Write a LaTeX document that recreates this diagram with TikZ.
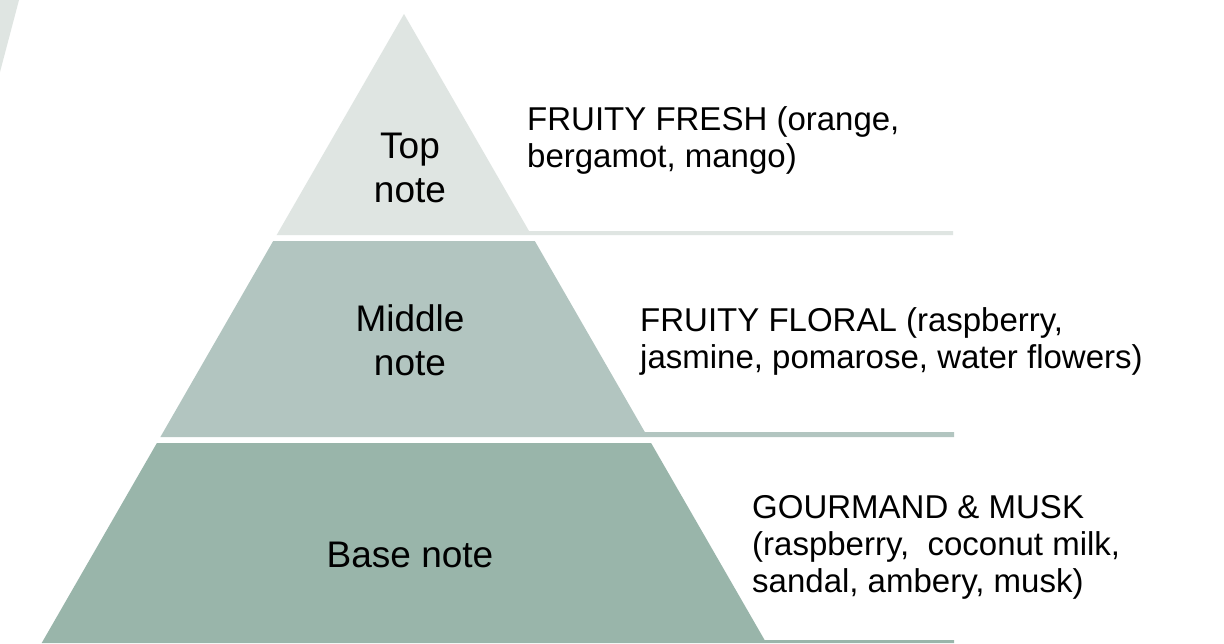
\documentclass[tikz,border=0pt]{standalone}
\usepackage{fontspec}
\setmainfont{Liberation Sans}
\definecolor{topc}{HTML}{DFE5E2}
\definecolor{midc}{HTML}{B2C5C0}
\definecolor{basec}{HTML}{99B5AA}
\begin{document}
\begin{tikzpicture}[x=1pt,y=-1pt,
  lvl/.style={align=center,font=\fontsize{37}{44}\selectfont,inner sep=0pt},
  desc/.style={align=left,anchor=west,font=\fontsize{33}{37}\selectfont,inner sep=0pt}]
\useasboundingbox (0,0) rectangle (1224,643);
\fill[white] (0,0) rectangle (1224,643);
% decorative corner
\fill[topc] (0,0) -- (19,0) -- (0,72) -- cycle;
% top tier
\fill[topc] (404,14) -- (529,231) -- (953,231) -- (953,235) -- (276.7,235) -- cycle;
% middle tier
\fill[midc] (273.2,241) -- (534.8,241) -- (644.8,432) -- (954,432) -- (954,437) -- (160.4,437) -- cycle;
% base tier
\fill[basec] (156.9,443) -- (651.1,443) -- (764.6,640) -- (954,640) -- (954,643) -- (41.7,643) -- cycle;
% labels
\node[lvl] (top) at (410,168) {Top\\note};
\node[lvl] (mid) at (410,340) {Middle\\note};
\node[lvl] (base) at (410,555) {Base note};
\node[desc] (topd) at (527,140) {FRUITY FRESH (orange,\\bergamot, mango)};
\node[desc] (midd) at (640,341) {FRUITY FLORAL (raspberry,\\jasmine, pomarose, water flowers)};
\node[desc] (based) at (752,547) {GOURMAND \& MUSK\\(raspberry,\ \ coconut milk,\\sandal, ambery, musk)};
\end{tikzpicture}
\end{document}
